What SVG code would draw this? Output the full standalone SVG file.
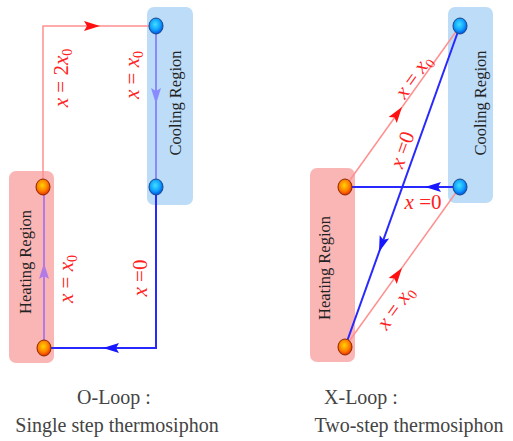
<svg xmlns="http://www.w3.org/2000/svg" xmlns:xlink="http://www.w3.org/1999/xlink" width="513" height="441" viewBox="0 0 513 441">
<style>
.heat{fill:#f9a8a8;opacity:0.85}
.cool{fill:#bcdcf8}
.reg{font-family:"Liberation Serif","Times New Roman",serif;font-size:16.5px;fill:#222;text-anchor:middle}
.lab{font-family:"Liberation Serif","Times New Roman",serif;font-size:21px;fill:#ff2020;text-anchor:middle}
.it{font-style:italic}
.sub{font-size:14px}
.cap{font-family:"Liberation Serif","Times New Roman",serif;font-size:20px;fill:#444;text-anchor:middle}
.hn{fill:url(#gh);stroke:#8a2a00;stroke-width:1}
.cn{fill:url(#gc);stroke:#1a4a8a;stroke-width:1}
.red{stroke:#ff9090;stroke-width:1.5;fill:none}
.blue{stroke:#2828ff;stroke-width:2;fill:none}
.lblue{stroke:#8a8aff;stroke-width:2;fill:none}
.purp{stroke:#b27ae6;stroke-width:2;fill:none}
</style>
<defs>
<radialGradient id="gh" cx="0.45" cy="0.4" r="0.6">
<stop offset="0" stop-color="#ffd400"/>
<stop offset="0.6" stop-color="#ff8000"/>
<stop offset="1" stop-color="#e83000"/>
</radialGradient>
<radialGradient id="gc" cx="0.45" cy="0.4" r="0.6">
<stop offset="0" stop-color="#40e0ff"/>
<stop offset="0.6" stop-color="#10a0ff"/>
<stop offset="1" stop-color="#0050e0"/>
</radialGradient>
<path id="arr" d="M0,0 L-16,-5 L-13,0 L-16,5 Z"/>
</defs>

<g id="o-heating-region">
<rect class="heat" x="9" y="171" width="45" height="192" rx="7"/>
<text class="reg" transform="translate(26,262) rotate(-90)" y="5">Heating Region</text>
</g>
<g id="o-cooling-region">
<rect class="cool" x="147" y="7" width="46" height="198" rx="7"/>
<text class="reg" transform="translate(176,103) rotate(-90)" y="5">Cooling  Region</text>
</g>
<g id="x-heating-region">
<rect class="heat" x="310" y="168" width="45" height="194" rx="7"/>
<text class="reg" transform="translate(325,268) rotate(-90)" y="5">Heating Region</text>
</g>
<g id="x-cooling-region">
<rect class="cool" x="448" y="7" width="45" height="196" rx="7"/>
<text class="reg" transform="translate(481,103) rotate(-90)" y="5">Cooling  Region</text>
</g>

<g id="connectors">
<path class="red" d="M43,187 V26 H156"/>
<use href="#arr" fill="#ff1010" transform="translate(100,26)"/>
<path class="lblue" d="M156,26 V187"/>
<use href="#arr" fill="#8a8aff" transform="translate(156,104) rotate(90)"/>
<path class="blue" d="M156,187 V348 H44"/>
<use href="#arr" fill="#1818ff" transform="translate(103,348) rotate(180)"/>
<path class="purp" d="M44,348 V187"/>
<use href="#arr" fill="#b27ae6" transform="translate(44,263) rotate(-90)"/>

<path class="red" d="M345,187 L460,26"/>
<use href="#arr" fill="#ff1010" transform="translate(402,107) rotate(-54.5)"/>
<path class="blue" d="M460,26 L345,347"/>
<use href="#arr" fill="#1818ff" transform="translate(379,252) rotate(109.7)"/>
<path class="blue" d="M460,187 H345"/>
<use href="#arr" fill="#1818ff" transform="translate(425,187) rotate(180)"/>
<path class="red" d="M345,347 L460,187"/>
<use href="#arr" fill="#ff1010" transform="translate(402,268) rotate(-54.3)"/>

<text class="lab" transform="translate(62,78) rotate(-90)" y="6"><tspan class="it">x</tspan> = 2<tspan class="it">x</tspan><tspan class="sub" dy="4">0</tspan></text>
<text class="lab" transform="translate(133,75) rotate(-90)" y="6"><tspan class="it">x</tspan> = <tspan class="it">x</tspan><tspan class="sub" dy="4">0</tspan></text>
<text class="lab" transform="translate(67,279) rotate(-90)" y="6"><tspan class="it">x</tspan> = <tspan class="it">x</tspan><tspan class="sub" dy="4">0</tspan></text>
<text class="lab" transform="translate(141,278) rotate(-90)" y="6"><tspan class="it">x</tspan> =0</text>

<text class="lab" transform="translate(414,77) rotate(-54.5)" y="6"><tspan class="it">x</tspan> = <tspan class="it">x</tspan><tspan class="sub" dy="4">0</tspan></text>
<text class="lab" transform="translate(403,150) rotate(-70.3)" y="6"><tspan class="it">x</tspan> =0</text>
<text class="lab" transform="translate(423,202)" y="7"><tspan class="it">x</tspan> =0</text>
<text class="lab" transform="translate(396,308) rotate(-54.3)" y="6"><tspan class="it">x</tspan> = <tspan class="it">x</tspan><tspan class="sub" dy="4">0</tspan></text>
</g>

<g id="o-nodes">
<ellipse id="o-heat-top" class="hn" cx="43" cy="187" rx="7" ry="8"/>
<ellipse id="o-heat-bottom" class="hn" cx="44" cy="348" rx="7" ry="8"/>
<ellipse id="o-cool-top" class="cn" cx="156" cy="26" rx="7" ry="8"/>
<ellipse id="o-cool-bottom" class="cn" cx="156" cy="187" rx="7" ry="8"/>
</g>
<g id="x-nodes">
<ellipse id="x-heat-top" class="hn" cx="345" cy="187" rx="7" ry="8"/>
<ellipse id="x-heat-bottom" class="hn" cx="345" cy="347" rx="7" ry="8"/>
<ellipse id="x-cool-top" class="cn" cx="460" cy="26" rx="7" ry="8"/>
<ellipse id="x-cool-bottom" class="cn" cx="460" cy="187" rx="7" ry="8"/>
</g>

<g id="captions">
<text class="cap" x="114" y="404">O-Loop :</text>
<text class="cap" x="117" y="432">Single  step thermosiphon</text>
<text class="cap" x="361" y="404">X-Loop :</text>
<text class="cap" x="409" y="432">Two-step thermosiphon</text>
</g>
</svg>
